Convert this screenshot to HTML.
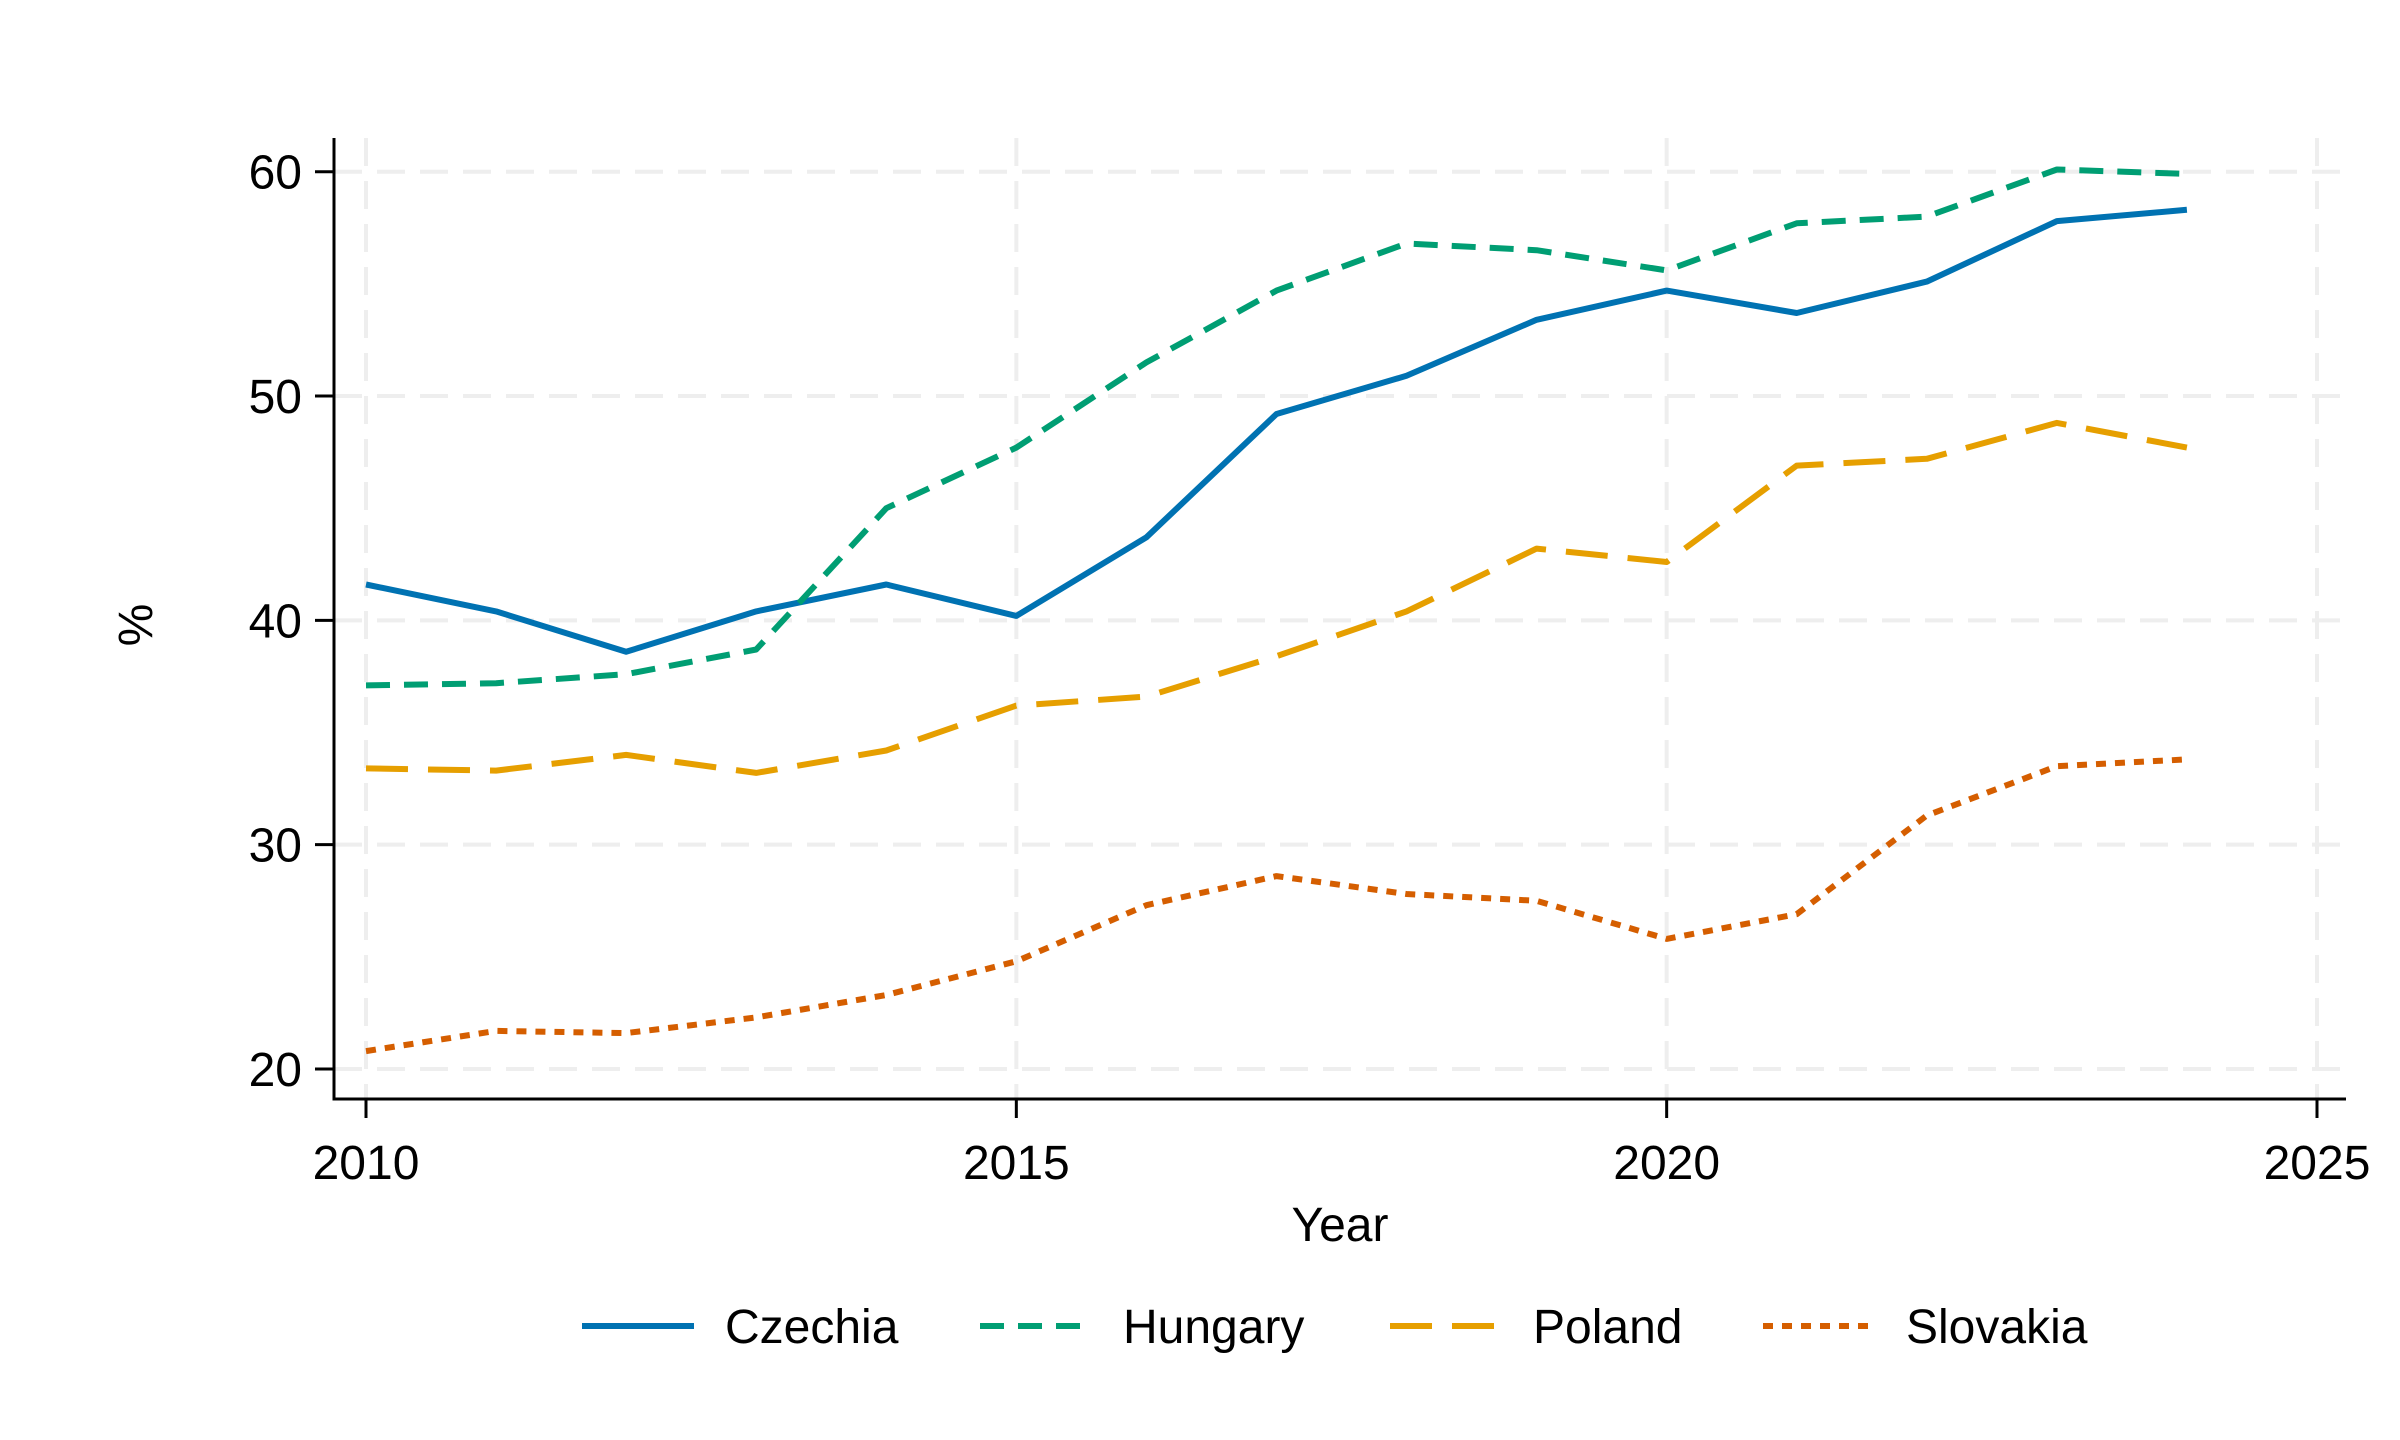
<!DOCTYPE html>
<html><head><meta charset="utf-8"><style>
html,body{margin:0;padding:0;background:#fff;}
svg{display:block;font-family:"Liberation Sans",Arial,sans-serif;}
</style></head><body>
<svg id="chart" width="2400" height="1440" viewBox="0 0 2400 1440" xmlns="http://www.w3.org/2000/svg">
<g id="grid"></g>
<g id="axes"></g>
<g id="series"></g>
<g id="legend"></g>
</svg>
<script>
const years = [2010,2011,2012,2013,2014,2015,2016,2017,2018,2019,2020,2021,2022,2023,2024];
const czechia = [41.6,40.4,38.6,40.4,41.6,40.2,43.7,49.2,50.9,53.4,54.7,53.7,55.1,57.8,58.3];
const hungary = [37.1,37.2,37.6,38.7,45.0,47.7,51.5,54.7,56.8,56.5,55.6,57.7,58.0,60.1,59.9];
const poland = [33.4,33.3,34.0,33.2,34.2,36.2,36.6,38.4,40.4,43.2,42.6,46.9,47.2,48.8,47.7];
const slovakia = [20.8,21.7,21.6,22.3,23.3,24.8,27.3,28.6,27.8,27.5,25.8,26.9,31.3,33.5,33.8];
const xTicks = [2010,2015,2020,2025];
const yTicks = [20,30,40,50,60];
const seriesNames = ["Czechia","Hungary","Poland","Slovakia"];

const NS="http://www.w3.org/2000/svg";
function X(v){return 366+(v-2010)*(2317-366)/15;}
function Y(v){return 171.7+(60-v)*(1069-171.7)/40;}
function mk(tag,attrs,parent){const e=document.createElementNS(NS,tag);for(const k in attrs)e.setAttribute(k,attrs[k]);parent.appendChild(e);return e;}
const grid=document.getElementById('grid'),axes=document.getElementById('axes'),ser=document.getElementById('series'),leg=document.getElementById('legend');
const L=334,B=1099,T=138,R=2346;
for(const t of yTicks){
  const g=mk('line',{x1:L,x2:R,y1:Y(t),y2:Y(t),stroke:'#eeeeee','stroke-width':4,'stroke-dasharray':'28 15'},grid);
  
  
  const tk=mk('line',{x1:L-19,x2:L,y1:Y(t),y2:Y(t),stroke:'#000','stroke-width':3},axes);
  
  
  const tx=mk('text',{x:302,y:Y(t)+17,'text-anchor':'end','font-size':48},axes);
  tx.textContent=t;
  
  
}
for(const t of xTicks){
  const g=mk('line',{x1:X(t),x2:X(t),y1:T,y2:B,stroke:'#eeeeee','stroke-width':4,'stroke-dasharray':'28 15'},grid);
  
  
  const tk=mk('line',{x1:X(t),x2:X(t),y1:B,y2:B+19,stroke:'#000','stroke-width':3},axes);
  
  
  const tx=mk('text',{x:X(t),y:B+80,'text-anchor':'middle','font-size':48},axes);
  tx.textContent=t;
  
  
}
const ya=mk('line',{x1:L,x2:L,y1:T,y2:B+1.5,stroke:'#000','stroke-width':3},axes);


const xa=mk('line',{x1:L-1.5,x2:R,y1:B,y2:B,stroke:'#000','stroke-width':3},axes);


const xt=mk('text',{x:1340,y:1241,'text-anchor':'middle','font-size':48},axes);
xt.textContent='Year';


const yt=mk('text',{x:0,y:0,'text-anchor':'middle','font-size':48,transform:'translate(152,625) rotate(-90)'},axes);
yt.textContent='%';



const styles=[
 {c:'#0072B2',d:''},
 {c:'#009E73',d:'24 14'},
 {c:'#E69F00',d:'42 20'},
 {c:'#D55E00',d:'10 9'}];
const data=[czechia,hungary,poland,slovakia];
const legX=[582,980,1390,1763];
data.forEach((vals,i)=>{
  const d=vals.map((v,j)=>(j?'L':'M')+X(years[j]).toFixed(1)+','+Y(v).toFixed(1)).join(' ');
  const p=mk('path',{d:d,fill:'none',stroke:styles[i].c,'stroke-width':6,'stroke-dasharray':styles[i].d,'stroke-linejoin':'round'},ser);
  
  
  const ll=mk('line',{x1:legX[i],x2:legX[i]+112,y1:1326,y2:1326,stroke:styles[i].c,'stroke-width':6,'stroke-dasharray':styles[i].d},leg);
  
  
  const lt=mk('text',{x:legX[i]+143,y:1343,'font-size':48},leg);
  lt.textContent=seriesNames[i];
  
  
});
</script>
</body></html>
